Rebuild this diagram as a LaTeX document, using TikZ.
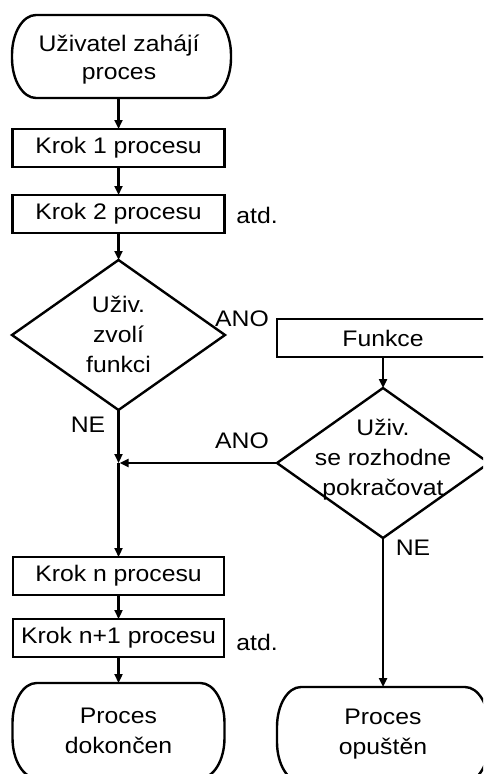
\documentclass[tikz,border=0pt]{standalone}
\usepackage{fontspec}
\setmainfont[FakeStretch=1.1]{Liberation Sans}
\usetikzlibrary{arrows.meta,shapes.geometric}

% Outline of a terminator: a box whose short sides are bulging elliptic arcs
\newcommand\flowterm[1]{%
  \draw ([xshift=24pt]#1.north west) -- ([xshift=-24pt]#1.north east)
    arc[start angle=90,end angle=0,x radius=24pt,y radius=40pt]
    -- ([yshift=40pt]#1.south east)
    arc[start angle=0,end angle=-90,x radius=24pt,y radius=40pt]
    -- ([xshift=24pt]#1.south west)
    arc[start angle=270,end angle=180,x radius=24pt,y radius=40pt]
    -- ([yshift=-40pt]#1.north west)
    arc[start angle=180,end angle=90,x radius=24pt,y radius=40pt]
    -- cycle;}

\begin{document}
\begin{tikzpicture}[x=1pt,y=1pt,line width=2.4pt,
  txt/.style={font=\fontsize{22.5}{30}\selectfont,align=center,inner sep=0pt},
  stepbox/.style={txt,draw,rectangle,minimum width=212pt,minimum height=38pt,outer sep=0pt},
  termbox/.style={txt,rectangle,outer sep=0pt},
  decis/.style={diamond,draw,minimum width=213pt,minimum height=150pt,inner sep=0pt,outer sep=0pt},
  arr/.style={-{Triangle[length=9pt,width=8pt]}}]

\useasboundingbox (0,0) rectangle (483,-774);
\fill[white] (0,0) rectangle (483,-774);
\clip (0,0) rectangle (483,-774);

% main column
\node[termbox,minimum width=219pt,minimum height=83pt] (start) at (121.5,-56.5) {};
\node[txt,font=\fontsize{22.5}{28}\selectfont] (startt) at (119,-60) {Uživatel zahájí\\proces};
\node[stepbox] (k1) at (118.5,-148) {Krok 1 procesu};
\node[stepbox] (k2) at (118.5,-214) {Krok 2 procesu};
\node[txt] (etc1) at (257,-215) {atd.};
\node[decis] (d1) at (118.5,-335) {};
\node[txt] (d1t) at (118.5,-334) {Uživ.\\zvolí\\funkci};
\node[txt] (ano1) at (242,-319) {ANO};
\node[txt] (ne1) at (88,-425) {NE};
\coordinate (j) at (118.5,-463);
\node[stepbox,minimum width=211pt] (kn) at (118.5,-576) {Krok n procesu};
\node[stepbox,minimum width=211pt] (kn1) at (118.5,-638) {Krok n+1 procesu};
\node[txt] (etc2) at (257,-642) {atd.};
\node[termbox,minimum width=212pt,minimum height=95pt] (done) at (118.5,-730.5) {Proces\\dokončen};

% side branch
\node[stepbox] (fn) at (383,-338) {Funkce};
\node[decis,minimum width=212pt] (d2) at (383,-463) {};
\node[txt] (d2t) at (383,-460) {Uživ.\\se rozhodne\\pokračovat};
\node[txt] (ano2) at (242,-441) {ANO};
\node[txt] (ne2) at (413,-548) {NE};
\node[termbox,minimum width=212pt,minimum height=95pt] (quit) at (383,-734.5) {Proces\\opuštěn};

\flowterm{start}
\flowterm{done}
\flowterm{quit}

% connectors
\draw[arr] (k1.north |- start.south) -- (k1.north);
\draw[arr] (k1.south) -- (k2.north);
\draw[arr] (k2.south) -- (d1.north);
\draw[arr] (d1.south) -- (j);
\draw[arr] (j) -- (kn.north);
\draw[arr] (d2.west) -- ([xshift=1.2pt]j);
\draw[arr] (fn.south) -- (d2.north);
\draw[arr] (kn.south) -- (kn1.north);
\draw[arr] (kn1.south) -- (done.north);
\draw[arr] (d2.south) -- (quit.north);
\end{tikzpicture}
\end{document}
